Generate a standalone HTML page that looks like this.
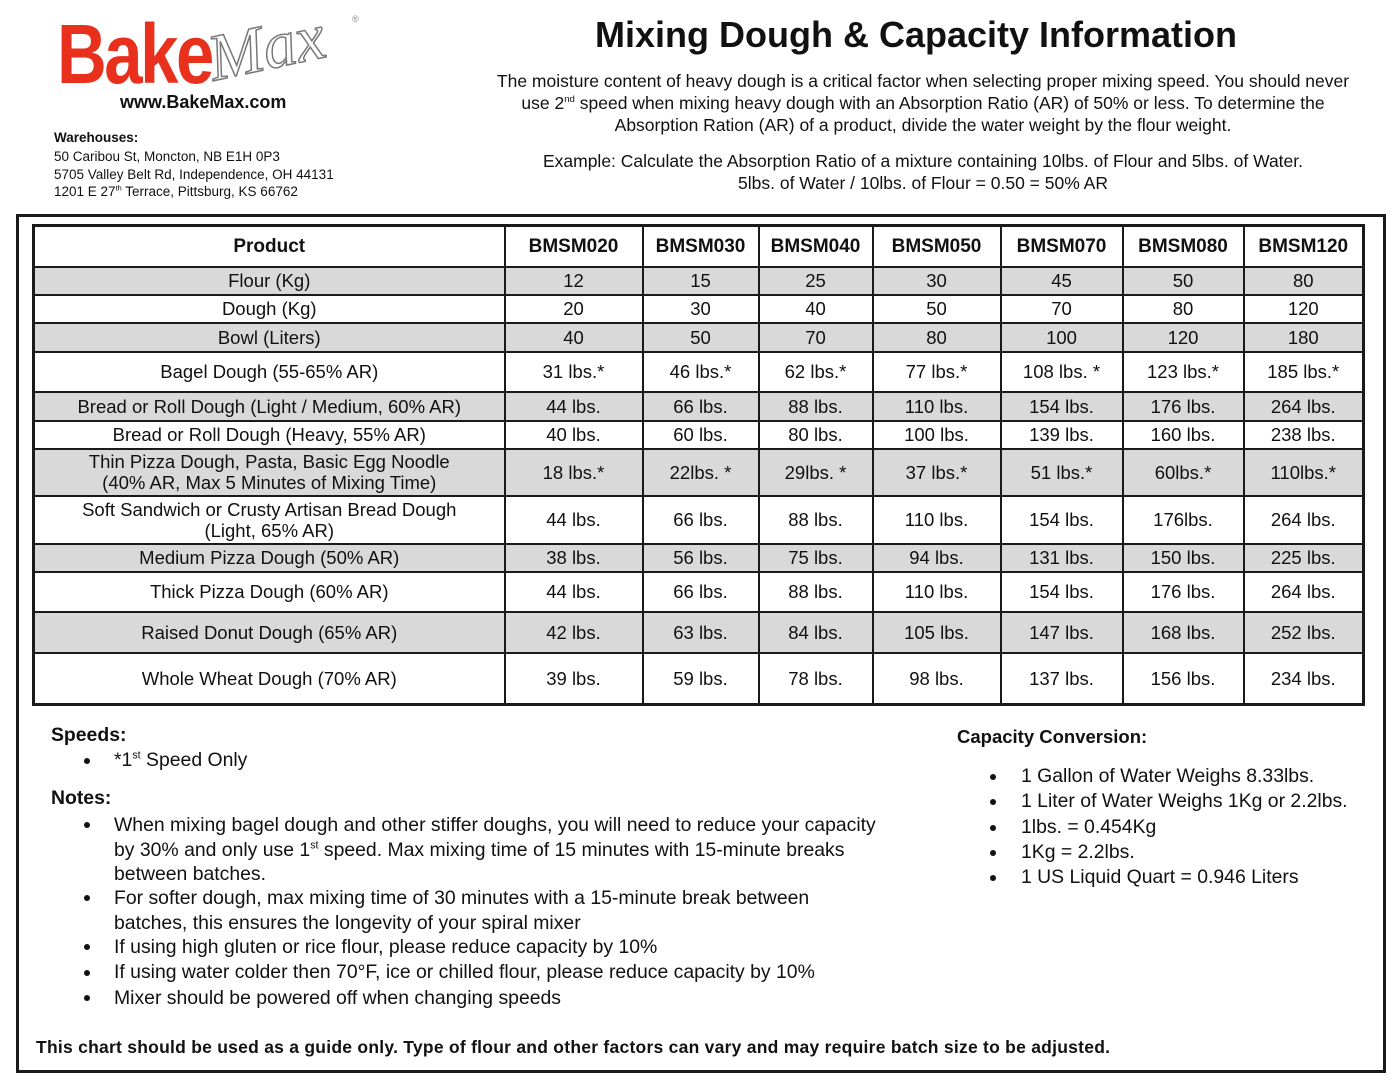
<!DOCTYPE html>
<html><head><meta charset="utf-8">
<style>
*{margin:0;padding:0;box-sizing:border-box}
body{width:1398px;height:1080px;background:#fff;position:relative;font-family:"Liberation Sans",Arial,sans-serif;color:#111;overflow:hidden}
.a{position:absolute;white-space:nowrap}
.c{text-align:center}
.frame{position:absolute;left:16px;top:214px;width:1370px;height:859px;border:3px solid #1a1a1a}
table{position:absolute;left:32px;top:224px;border-collapse:collapse;table-layout:fixed;border:3px solid #1a1a1a}
td{border:2px solid #1a1a1a;text-align:center;font-size:18.5px;line-height:21px;padding:0}
tr.g td{background:#d9d9d9}
tr.h td{font-weight:bold;font-size:19px}
sup{font-size:0.55em;vertical-align:super;line-height:0}
.li{position:absolute;white-space:nowrap;font-size:19.4px}
.dot{position:absolute;width:6px;height:6px;border-radius:50%;background:#111}
</style></head><body>

<div class="a" style="left:57px;top:6px;font-size:84px;font-weight:bold;color:#e8301c;letter-spacing:-3px;transform:scaleX(0.82);transform-origin:left;font-family:'Liberation Sans Narrow','Liberation Sans',sans-serif">Bake</div>
<div class="a" style="left:208px;top:10px;font-size:66px;font-style:italic;font-family:'Liberation Serif',serif;color:#fff;-webkit-text-stroke:1.5px #777;transform:rotate(-12deg)">Max</div>
<div class="a" style="left:352px;top:14px;font-size:9px;color:#888">®</div>
<div class="a" style="left:120px;top:92px;font-size:18px;font-weight:bold">www.BakeMax.com</div>
<div class="a" style="left:54px;top:130px;font-size:13.5px;font-weight:bold">Warehouses:</div>
<div class="a" style="left:54px;top:148px;font-size:13.5px;line-height:17.5px">50 Caribou St, Moncton, NB E1H 0P3<br>5705 Valley Belt Rd, Independence, OH 44131<br>1201 E 27<sup>th</sup> Terrace, Pittsburg, KS 66762</div>

<div class="a c" style="left:516px;width:800px;top:14px;font-size:36px;font-weight:bold">Mixing Dough &amp; Capacity Information</div>
<div class="a c" style="left:473px;width:900px;top:70px;font-size:17.5px;line-height:22px">The moisture content of heavy dough is a critical factor when selecting proper mixing speed. You should never<br>use 2<sup>nd</sup> speed when mixing heavy dough with an Absorption Ratio (AR) of 50% or less. To determine the<br>Absorption Ration (AR) of a product, divide the water weight by the flour weight.</div>
<div class="a c" style="left:473px;width:900px;top:150px;font-size:17.5px;line-height:22px">Example: Calculate the Absorption Ratio of a mixture containing 10lbs. of Flour and 5lbs. of Water.<br>5lbs. of Water / 10lbs. of Flour = 0.50 = 50% AR</div>

<div class="frame"></div>
<table>
<colgroup><col style="width:471px"><col style="width:138px"><col style="width:116px"><col style="width:114px"><col style="width:128px"><col style="width:122px"><col style="width:121px"><col style="width:120px"></colgroup>
<tr class="h" style="height:41px"><td>Product</td><td>BMSM020</td><td>BMSM030</td><td>BMSM040</td><td>BMSM050</td><td>BMSM070</td><td>BMSM080</td><td>BMSM120</td></tr>
<tr class="g" style="height:28px"><td>Flour (Kg)</td><td>12</td><td>15</td><td>25</td><td>30</td><td>45</td><td>50</td><td>80</td></tr>
<tr style="height:28px"><td>Dough (Kg)</td><td>20</td><td>30</td><td>40</td><td>50</td><td>70</td><td>80</td><td>120</td></tr>
<tr class="g" style="height:29px"><td>Bowl (Liters)</td><td>40</td><td>50</td><td>70</td><td>80</td><td>100</td><td>120</td><td>180</td></tr>
<tr style="height:40px"><td>Bagel Dough (55-65% AR)</td><td>31 lbs.*</td><td>46 lbs.*</td><td>62 lbs.*</td><td>77 lbs.*</td><td>108 lbs. *</td><td>123 lbs.*</td><td>185 lbs.*</td></tr>
<tr class="g" style="height:29px"><td>Bread or Roll Dough (Light / Medium, 60% AR)</td><td>44 lbs.</td><td>66 lbs.</td><td>88 lbs.</td><td>110 lbs.</td><td>154 lbs.</td><td>176 lbs.</td><td>264 lbs.</td></tr>
<tr style="height:28px"><td>Bread or Roll Dough (Heavy, 55% AR)</td><td>40 lbs.</td><td>60 lbs.</td><td>80 lbs.</td><td>100 lbs.</td><td>139 lbs.</td><td>160 lbs.</td><td>238 lbs.</td></tr>
<tr class="g" style="height:47px"><td>Thin Pizza Dough, Pasta, Basic Egg Noodle<br>(40% AR, Max 5 Minutes of Mixing Time)</td><td>18 lbs.*</td><td>22lbs. *</td><td>29lbs. *</td><td>37 lbs.*</td><td>51 lbs.*</td><td>60lbs.*</td><td>110lbs.*</td></tr>
<tr style="height:48px"><td>Soft Sandwich or Crusty Artisan Bread Dough<br>(Light, 65% AR)</td><td>44 lbs.</td><td>66 lbs.</td><td>88 lbs.</td><td>110 lbs.</td><td>154 lbs.</td><td>176lbs.</td><td>264 lbs.</td></tr>
<tr class="g" style="height:28px"><td>Medium Pizza Dough (50% AR)</td><td>38 lbs.</td><td>56 lbs.</td><td>75 lbs.</td><td>94 lbs.</td><td>131 lbs.</td><td>150 lbs.</td><td>225 lbs.</td></tr>
<tr style="height:40px"><td>Thick Pizza Dough (60% AR)</td><td>44 lbs.</td><td>66 lbs.</td><td>88 lbs.</td><td>110 lbs.</td><td>154 lbs.</td><td>176 lbs.</td><td>264 lbs.</td></tr>
<tr class="g" style="height:41px"><td>Raised Donut Dough (65% AR)</td><td>42 lbs.</td><td>63 lbs.</td><td>84 lbs.</td><td>105 lbs.</td><td>147 lbs.</td><td>168 lbs.</td><td>252 lbs.</td></tr>
<tr style="height:52px"><td>Whole Wheat Dough (70% AR)</td><td>39 lbs.</td><td>59 lbs.</td><td>78 lbs.</td><td>98 lbs.</td><td>137 lbs.</td><td>156 lbs.</td><td>234 lbs.</td></tr>
</table>

<div class="li" style="left:51px;top:724px;font-weight:bold">Speeds:</div>
<div class="dot" style="left:84px;top:758px"></div><div class="li" style="left:114px;top:749px">*1<sup>st</sup> Speed Only</div>
<div class="li" style="left:51px;top:787px;font-weight:bold">Notes:</div>
<div class="dot" style="left:84px;top:822px"></div>
<div class="li" style="left:114px;top:813px;line-height:24.5px">When mixing bagel dough and other stiffer doughs, you will need to reduce your capacity<br>by 30% and only use 1<sup>st</sup> speed. Max mixing time of 15 minutes with 15-minute breaks<br>between batches.</div>
<div class="dot" style="left:84px;top:895px"></div>
<div class="li" style="left:114px;top:886px;line-height:24.5px">For softer dough, max mixing time of 30 minutes with a 15-minute break between<br>batches, this ensures the longevity of your spiral mixer</div>
<div class="dot" style="left:84px;top:944px"></div><div class="li" style="left:114px;top:936px">If using high gluten or rice flour, please reduce capacity by 10%</div>
<div class="dot" style="left:84px;top:970px"></div><div class="li" style="left:114px;top:961px">If using water colder then 70°F, ice or chilled flour, please reduce capacity by 10%</div>
<div class="dot" style="left:84px;top:995px"></div><div class="li" style="left:114px;top:987px">Mixer should be powered off when changing speeds</div>
<div class="li" style="left:36px;top:1037px;font-weight:bold;font-size:17.5px;letter-spacing:0.25px">This chart should be used as a guide only. Type of flour and other factors can vary and may require batch size to be adjusted.</div>

<div class="li" style="left:957px;top:726px;font-weight:bold;font-size:18.5px">Capacity Conversion:</div>
<div class="dot" style="left:990px;top:774px"></div><div class="li" style="left:1021px;top:765px">1 Gallon of Water Weighs 8.33lbs.</div>
<div class="dot" style="left:990px;top:799px"></div><div class="li" style="left:1021px;top:790px">1 Liter of Water Weighs 1Kg or 2.2lbs.</div>
<div class="dot" style="left:990px;top:825px"></div><div class="li" style="left:1021px;top:816px">1lbs. = 0.454Kg</div>
<div class="dot" style="left:990px;top:850px"></div><div class="li" style="left:1021px;top:841px">1Kg = 2.2lbs.</div>
<div class="dot" style="left:990px;top:875px"></div><div class="li" style="left:1021px;top:866px">1 US Liquid Quart = 0.946 Liters</div>
</body></html>
